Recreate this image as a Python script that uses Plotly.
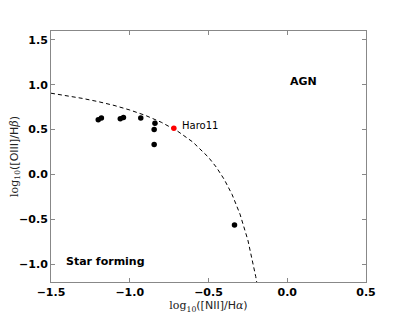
import plotly.graph_objects as go

# Data
sf_x = [-1.20, -1.18, -1.06, -1.04, -0.93, -0.84, -0.845, -0.845, -0.335]
sf_y = [0.61, 0.63, 0.62, 0.635, 0.63, 0.57, 0.50, 0.335, -0.565]
haro_x = [-0.72]
haro_y = [0.515]
curve_x = [-1.5, -1.4, -1.3, -1.2, -1.1, -1.0, -0.9, -0.8, -0.7, -0.6, -0.5,
           -0.45, -0.4, -0.35, -0.3, -0.25, -0.22, -0.2, -0.19]
curve_y = [0.906, 0.879, 0.848, 0.812, 0.770, 0.719, 0.658, 0.582, 0.487, 0.362,
           0.191, 0.080, -0.056, -0.225, -0.443, -0.733, -0.959, -1.14, -1.242]
x_ticks = [-1.5, -1.0, -0.5, 0.0, 0.5]
y_ticks = [-1.0, -0.5, 0.0, 0.5, 1.0, 1.5]

fig = go.Figure()
fig.add_trace(go.Scatter(x=curve_x, y=curve_y, mode="lines",
                         line=dict(color="black", width=1, dash="4px,3px"),
                         hoverinfo="skip", showlegend=False))
fig.add_trace(go.Scatter(x=sf_x, y=sf_y, mode="markers",
                         marker=dict(color="black", size=5.5), showlegend=False))
fig.add_trace(go.Scatter(x=haro_x, y=haro_y, mode="markers",
                         marker=dict(color="red", size=5.5), showlegend=False))

fig.add_annotation(x=haro_x[0] + 0.04, y=haro_y[0] + 0.035, text="Haro11", showarrow=False,
                   xanchor="left", yanchor="middle",
                   font=dict(family="DejaVu Sans", size=10, color="black"))
fig.add_annotation(x=0.104, y=1.04, text="<b>AGN</b>", showarrow=False,
                   xanchor="center", yanchor="middle",
                   font=dict(family="DejaVu Sans", size=11, color="black"))
fig.add_annotation(x=-1.155, y=-0.966, text="<b>Star forming</b>", showarrow=False,
                   xanchor="center", yanchor="middle",
                   font=dict(family="DejaVu Sans", size=11, color="black"))

axis_common = dict(showgrid=False, zeroline=False, showline=True, linecolor="#888888",
                   linewidth=1, mirror="ticks", ticks="inside", ticklen=4,
                   tickcolor="#888888", automargin=False,
                   tickfont=dict(family="DejaVu Sans", size=11, color="black", weight="bold"))

serif = '<span style="font-family:DejaVu Serif">'
fig.update_xaxes(range=[-1.5, 0.5], tickvals=x_ticks,
                 ticktext=[f"{v:.1f}".replace("-", "\u2212") for v in x_ticks],
                 title=dict(text=serif + "log<sub>10</sub></span>([NII]/H" + serif + "<i>α</i></span>)",
                            standoff=1,
                            font=dict(family="DejaVu Sans", size=11, color="#222222")),
                 **axis_common)
fig.update_yaxes(range=[-1.2, 1.6], tickvals=y_ticks,
                 ticktext=[f"{v:.1f}".replace("-", "\u2212") for v in y_ticks],
                 title=dict(text=serif + "log<sub>10</sub></span>([OIII]/H" + serif + "<i>β</i></span>)",
                            standoff=5,
                            font=dict(family="DejaVu Sans", size=11, color="#222222")),
                 **axis_common)

# page body has an 8px margin, so the figure is offset by 8px
fig.update_layout(width=399, height=306, plot_bgcolor="white", paper_bgcolor="white",
                  margin=dict(l=43, r=41, t=23, b=32), showlegend=False)

fig.write_html("out.html")
